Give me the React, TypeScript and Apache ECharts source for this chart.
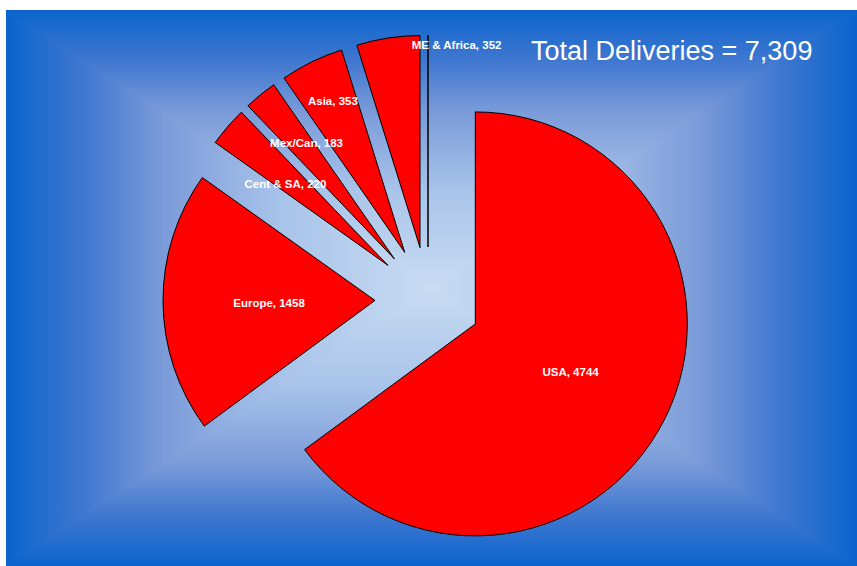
import React, { useEffect, useRef } from "react";
import * as echarts from "echarts";

const categories = ["USA", "Europe", "Cent & SA", "Mex/Can", "Asia", "ME & Africa", "Other"];
const deliveries = [4744, 1458, 220, 183, 353, 352, 0];
const titleText = "Total Deliveries = 7,309";

// label nudges (style only), per slice
const labelOffsets = [
  [-2, -1],
  [3, 2],
  [-20, -10],
  [-19, -32],
  [-24, -53],
  [53, -95],
  [0, 0],
];

const W = 857;
const H = 566;
const BG = { x0: 6, y0: 10, x1: 857, y1: 566 };

const stops = [
  { offset: 0, color: "#0a64cc" },
  { offset: 0.18, color: "#3f77d0" },
  { offset: 0.37, color: "#7b9bd9" },
  { offset: 0.65, color: "#a9c4ea" },
  { offset: 1, color: "#c8dcf2" },
];

function grad(x: number, y: number, x2: number, y2: number) {
  return { type: "linear", x, y, x2, y2, colorStops: stops };
}

export default function App() {
  const ref = useRef<HTMLDivElement>(null);
  useEffect(() => {
    if (!ref.current) return;
    const chart = echarts.init(ref.current, undefined, { renderer: "svg" });
    const cx = (BG.x0 + BG.x1) / 2;
    const cy = (BG.y0 + BG.y1) / 2;
    const data = categories.map((name, i) => ({
      name,
      value: deliveries[i],
      selected: true,
      label: { show: deliveries[i] > 0 },
    }));
    const tri = (pts: number[][], g: any) => ({
      type: "polygon",
      z: -9,
      silent: true,
      shape: { points: pts },
      style: { fill: g, stroke: g, lineWidth: 1.5 },
    });
    chart.setOption({
      animation: false,
      backgroundColor: "#ffffff",
      title: {
        text: titleText,
        left: 526,
        top: 32,
        textStyle: {
          color: "#ffffff",
          fontSize: 27,
          fontWeight: "normal",
          fontFamily: "'Liberation Sans', Arial, sans-serif",
          lineHeight: 28,
        },
      },
      graphic: [
        {
          type: "group",
          clipPath: {
            type: "rect",
            shape: { x: BG.x0, y: BG.y0, width: BG.x1 - BG.x0, height: BG.y1 - BG.y0 },
          },
          children: [
            tri([[BG.x0, BG.y0], [BG.x1, BG.y0], [cx, cy]], grad(0, 0, 0, 1)),
            tri([[BG.x0, BG.y1], [BG.x1, BG.y1], [cx, cy]], grad(0, 1, 0, 0)),
            tri([[BG.x0, BG.y0], [BG.x0, BG.y1], [cx, cy]], grad(0, 0, 1, 0)),
            tri([[BG.x1, BG.y0], [BG.x1, BG.y1], [cx, cy]], grad(1, 0, 0, 0)),
          ],
        },
      ],
      series: [
        {
          type: "pie",
          center: [428, 300],
          radius: 212,
          startAngle: 90,
          clockwise: true,
          selectedMode: "multiple",
          selectedOffset: 53,
          avoidLabelOverlap: false,
          itemStyle: { color: "#ff0000", borderColor: "#000000", borderWidth: 1 },
          emphasis: { disabled: true },
          select: { itemStyle: { color: "#ff0000", borderColor: "#000000", borderWidth: 1 } },
          labelLine: { show: false },
          label: {
            show: true,
            position: "inside",
            formatter: "{b}, {c}",
            color: "#ffffff",
            fontWeight: "bold",
            fontSize: 11.5,
            fontFamily: "'Liberation Sans', Arial, sans-serif",
          },
          labelLayout: (params: any) => {
            const o = labelOffsets[params.dataIndex] || [0, 0];
            return { dx: o[0], dy: o[1] };
          },
          data,
        },
      ],
    });
    return () => chart.dispose();
  }, []);
  return (
    <div
      ref={ref}
      style={{ position: "fixed", left: 0, top: 0, width: W, height: H }}
    />
  );
}
